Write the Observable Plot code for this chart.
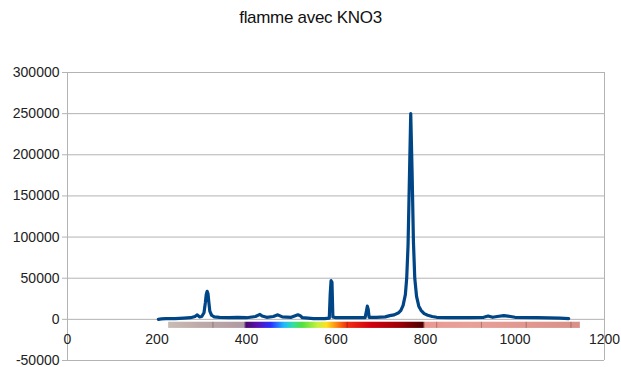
<!DOCTYPE html>
<html>
<head>
<meta charset="utf-8">
<script src="https://cdn.jsdelivr.net/npm/d3@7"></script>
<script src="https://cdn.jsdelivr.net/npm/@observablehq/plot@0.6"></script>
<style>
  html, body { margin: 0; padding: 0; background: #fff; }
  #wrap { position: relative; width: 621px; height: 367px; font-family: "Liberation Sans", Arial, sans-serif; }
  #title { position: absolute; left: 0; top: 7px; width: 621px; text-align: center; font-size: 17px; line-height: 22px; color: #111; letter-spacing: -0.3px; }
</style>
</head>
<body>
<div id="wrap"><div id="title">flamme avec KNO3</div></div>
<script>
const titleText = "flamme avec KNO3";
// wavelength (nm)
const wavelength = [203,210,220,240,260,275,285,290,295,300,305,308,310,312,314,316,318,322,328,340,360,380,400,420,430,435,445,460,470,480,500,515,520,525,550,575,585,587,589,591,593,600,640,665,668,670,672,674,690,710,720,730,740,745,750,755,758,761,764,767,770,773,776,780,785,790,797,805,815,825,850,900,930,940,950,960,975,990,1000,1050,1100,1120];
// intensity
const intensity = [0,500,800,1000,1500,2000,3500,5500,3000,3500,8000,20000,30000,34000,31000,20000,10000,5000,3000,2500,2000,2500,2000,3500,6000,4000,2500,3500,5500,3000,2500,5500,4500,2000,1000,1000,1500,30000,47000,45000,3000,2000,2000,2000,10000,16000,12000,2500,2500,3000,4500,5500,8000,11000,17000,30000,50000,90000,170000,250000,180000,95000,50000,28000,16000,11000,7000,5000,3500,2500,2000,2000,2500,4000,2500,3500,4500,3500,2500,2000,1500,1000];

const xTicks = [0,200,400,600,800,1000,1200];
const yTicks = [-50000,0,50000,100000,150000,200000,250000,300000];

// colour spectrum band drawn below the zero line
const bandRange = [226, 1146];
const bandStops = [
  [226,"#c9bcb4"],[300,"#bdaaa8"],[395,"#b09aa4"],[400,"#4a0a6e"],[425,"#5a10b0"],
  [455,"#2a30ff"],[485,"#20b8ff"],[505,"#30e0a0"],[525,"#50e040"],[560,"#c8f040"],
  [580,"#ffe020"],[600,"#ff9010"],[625,"#f03010"],[680,"#d00010"],[740,"#a00008"],
  [795,"#500000"],[800,"#e89a92"],[900,"#e8a098"],[1146,"#d89088"]
];
const bandTicks = [325,625,825,925,1025,1125];

const data = wavelength.map((w,i) => ({w, v: intensity[i]}));

const chart = Plot.plot({
  width: 621,
  height: 367,
  marginTop: 72,
  marginBottom: 7,
  marginLeft: 67,
  marginRight: 17,
  style: {fontFamily: "Liberation Sans, Arial, sans-serif", fontSize: "14px", background: "transparent", overflow: "visible"},
  x: {domain: [0,1200], axis: null},
  y: {domain: [-50000,300000], axis: null},
  marks: [
    Plot.ruleY(yTicks, {stroke: "#b3b3b3", strokeWidth: 1}),
    Plot.ruleX([0], {stroke: "#b3b3b3"}),
    Plot.ruleX([1200], {stroke: "#b3b3b3"}),
    Plot.axisY({ticks: yTicks, label: null, tickSize: 5, tickPadding: 3, tickFormat: d => String(d), stroke: "#b3b3b3", fill: "#222", fontSize: 14}),
    Plot.rect([bandRange], {x1: d => d[0], x2: d => d[1], y1: -3500, y2: -11000, fill: "url(#spec)"}),
    Plot.ruleX(bandTicks, {y1: -3500, y2: -11000, stroke: "#000", strokeOpacity: 0.25}),
    Plot.text(xTicks, {x: d => d, y: 0, dy: 20, text: d => String(d), fill: "#222", fontSize: 14}),
    Plot.line(data, {x: "w", y: "v", stroke: "#004586", strokeWidth: 3.2, strokeLinejoin: "round", strokeLinecap: "round"})
  ]
});

// gradient definition for the spectrum band
const svgSel = d3.select(chart);
const grad = svgSel.insert("defs", ":first-child")
  .append("linearGradient").attr("id", "spec")
  .attr("x1", "0%").attr("x2", "100%").attr("y1", "0%").attr("y2", "0%");
bandStops.forEach(([w, c]) => {
  grad.append("stop")
    .attr("offset", ((w - bandRange[0]) / (bandRange[1] - bandRange[0]) * 100) + "%")
    .attr("stop-color", c);
});

chart.style.position = "absolute";
chart.style.left = "0";
chart.style.top = "0";
document.getElementById("wrap").appendChild(chart);
document.getElementById("title").textContent = titleText;
document.getElementById("wrap").appendChild(document.getElementById("title"));
</script>
</body>
</html>
